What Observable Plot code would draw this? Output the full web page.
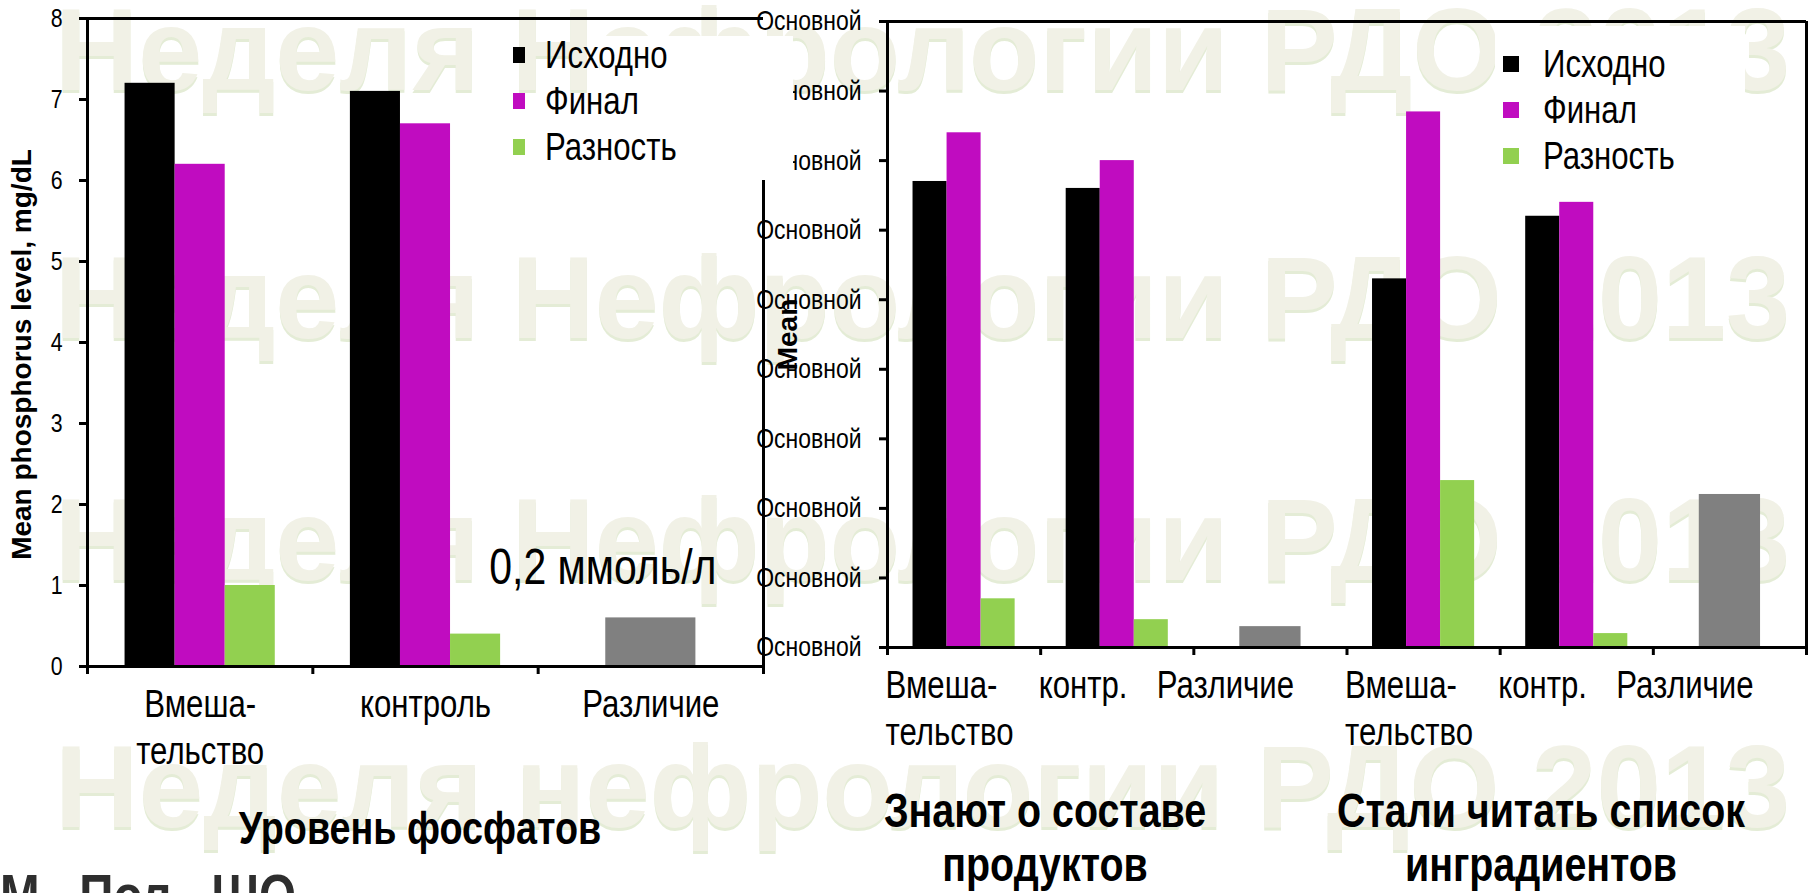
<!DOCTYPE html>
<html><head><meta charset="utf-8">
<script src="https://cdn.jsdelivr.net/npm/d3@7"></script>
<script src="https://cdn.jsdelivr.net/npm/@observablehq/plot@0.6"></script>
<style>
html,body{margin:0;padding:0;width:1813px;height:893px;overflow:hidden;background:#fff;}
#stage{position:relative;width:1813px;height:893px;overflow:hidden;background:#fff;}
.abs{position:absolute;}
.narrow{font-family:"Liberation Sans",Arial,sans-serif;}
.sq{display:inline-block;transform-origin:0 50%;transform:scaleX(0.82);white-space:pre;}
.legend{position:absolute;font-size:38px;color:#000;}
.legend .row{display:flex;align-items:center;height:46px;}
.title{position:absolute;font-size:48px;font-weight:bold;line-height:54px;text-align:center;white-space:pre;color:#000;transform:scaleX(0.82);transform-origin:50% 50%;}
</style></head>
<body><div id="stage"></div>
<script>
const NARROW = '"Liberation Sans", Arial, sans-serif';
const WIDE = '"Liberation Sans", Arial, sans-serif';
const K = 0.82; // narrow-face horizontal factor

// ---- data ----
const series = ["Исходно", "Финал", "Разность"];
const seriesColors = ["#000000", "#C00CC0", "#92D050"];
const diffSeries = "Различие";
const diffColor = "#808080";

const leftCategories = ["Вмеша-\nтельство", "контроль", "Различие"];
const leftBarGroups = [0, 1];
const leftBaseline = [7.2, 7.1];
const leftFinal = [6.2, 6.7];
const leftDelta = [1.0, 0.4];
const leftDiffGroups = [2];
const leftDiff = [0.6];
const leftTicks = [0, 1, 2, 3, 4, 5, 6, 7, 8];
const leftYLabel = "Mean phosphorus level, mg/dL";
const leftNote = "0,2 ммоль/л";
const leftTitle = "Уровень фосфатов";

const rightCategories = ["Вмеша-\nтельство", "контр.", "Различие", "Вмеша-\nтельство", "контр.", "Различие"];
const rightBarGroups = [0, 1, 3, 4];
const rightBaseline = [6.7, 6.6, 5.3, 6.2];
const rightFinal = [7.4, 7.0, 7.7, 6.4];
const rightDelta = [0.7, 0.4, 2.4, 0.2];
const rightDiffGroups = [2, 5];
const rightDiff = [0.3, 2.2];
const rightTicks = [0, 1, 2, 3, 4, 5, 6, 7, 8, 9];
const rightTickLabel = "Основной";
const rightYLabel = "Mean";
const rightTitles = ["Знают о составе\nпродуктов", "Стали читать список\nинградиентов"];

const watermarkRows = ["Неделя Нефрологии РДО 2013", "Неделя Нефрологии РДО 2013", "Неделя Нефрологии РДО 2013", "Неделя нефрологии РДО 2013"];
const footerText = "М.  Пол,  ШО";

// ---- build tables ----
function barRows(groups, a, b, c) {
  const out = [];
  const vals = [a, b, c];
  groups.forEach((g, k) => series.forEach((s, j) => out.push({cat: g, series: s, value: vals[j][k]})));
  return out;
}
const leftRows = barRows(leftBarGroups, leftBaseline, leftFinal, leftDelta);
const leftDiffRows = leftDiffGroups.map((g, k) => ({cat: g, series: diffSeries, value: leftDiff[k]}));
const rightRows = barRows(rightBarGroups, rightBaseline, rightFinal, rightDelta);
const rightDiffRows = rightDiffGroups.map((g, k) => ({cat: g, series: diffSeries, value: rightDiff[k]}));
const rightLabelRows = rightCategories.map((label, i) => ({label, i}));

const inner = d3.scaleBand().domain(series).range([1/6, 5/6]);
const diffHalf = 0.2;
const colorScale = {domain: [...series, diffSeries], range: [...seriesColors, diffColor]};

function barMarks(rows, diffRows) {
  return [
    Plot.rect(rows, {x1: d => d.cat + inner(d.series), x2: d => d.cat + inner(d.series) + inner.bandwidth(), y1: () => 0, y2: "value", fill: "series"}),
    Plot.rect(diffRows, {x1: d => d.cat + 0.5 - diffHalf, x2: d => d.cat + 0.5 + diffHalf, y1: () => 0, y2: "value", fill: "series"})
  ];
}

// compress regular-weight SVG text to a narrow face
function narrow(svg) {
  svg.querySelectorAll("text").forEach(t => {
    if (t.closest('[font-weight="bold"]')) return;
    const parts = t.querySelectorAll("tspan");
    const targets = parts.length ? Array.from(parts) : [t];
    targets.forEach(el => {
      const L = el.getComputedTextLength();
      if (L > 0) { el.setAttribute("textLength", (L * K).toFixed(2)); el.setAttribute("lengthAdjust", "spacingAndGlyphs"); }
    });
  });
}

const stage = document.getElementById("stage");

// ---- watermark ----
const wm = d3.create("svg").attr("width", 1813).attr("height", 893).attr("class", "abs").style("left", 0).style("top", 0).style("z-index", 0);
const wmBase = [90, 338, 580, 827];
watermarkRows.forEach((t, i) => {
  [[3, "#E4ECD6"], [0, "#F1F1E6"]].forEach(([off, col]) => {
    wm.append("text").attr("x", 55).attr("y", wmBase[i] + off).attr("font-family", WIDE).attr("font-weight", "bold")
      .attr("font-size", 116).attr("textLength", 1735).attr("lengthAdjust", "spacingAndGlyphs").attr("fill", col).text(t);
  });
});
stage.appendChild(wm.node());

const labelOpts = {y: () => 0, lineAnchor: "top", dy: 18, fontSize: 38, lineHeight: 1.22};

// ---- right chart ----
const rightPlot = Plot.plot({
  width: 1073, height: 767,
  marginLeft: 147, marginRight: 7, marginTop: 21, marginBottom: 120,
  x: {domain: [0, 6], axis: null},
  y: {domain: [0, 9], axis: null},
  color: colorScale,
  style: {background: "transparent", overflow: "visible", fontFamily: NARROW, fontSize: "28px", color: "#000"},
  marks: [
    ...barMarks(rightRows, rightDiffRows),
    Plot.ruleY([0], {strokeWidth: 3}),
    Plot.ruleY([9], {strokeWidth: 3}),
    Plot.ruleX([0], {strokeWidth: 3}),
    Plot.ruleX([6], {strokeWidth: 3}),
    Plot.axisY({ticks: rightTicks, tickFormat: () => rightTickLabel, tickSize: 8, tickPadding: 18, fontSize: 28, strokeWidth: 3, label: null}),
    Plot.axisX({ticks: d3.range(0, 7), tickSize: 8, tickFormat: () => "", strokeWidth: 3, label: null}),
    Plot.text(rightLabelRows.filter(d => d.label !== diffSeries), {...labelOpts, x: "i", text: "label", textAnchor: "start", dx: -2}),
    Plot.text(rightLabelRows.filter(d => d.label === diffSeries), {...labelOpts, x: "i", text: "label", textAnchor: "start", dx: -37}),
    Plot.text([rightYLabel], {frameAnchor: "left", textAnchor: "middle", rotate: -90, dx: -99, fontSize: 28, fontWeight: "bold", fontFamily: WIDE})
  ]
});
rightPlot.classList.add("abs");
rightPlot.style.left = "740px"; rightPlot.style.top = "0px"; rightPlot.style.zIndex = 1; rightPlot.style.maxWidth = "none";
stage.appendChild(rightPlot);
narrow(rightPlot);

// ---- left chart ----
const leftPlot = Plot.plot({
  width: 790, height: 780,
  marginLeft: 87, marginRight: 27, marginTop: 18, marginBottom: 114,
  x: {domain: [0, 3], axis: null},
  y: {domain: [0, 8], axis: null},
  color: colorScale,
  style: {background: "transparent", overflow: "visible", fontFamily: NARROW, fontSize: "26px", color: "#000"},
  marks: [
    ...barMarks(leftRows, leftDiffRows),
    Plot.ruleY([0], {strokeWidth: 3}),
    Plot.ruleY([8], {strokeWidth: 3}),
    Plot.ruleX([0], {strokeWidth: 3}),
    Plot.ruleX([3], {y1: 0, y2: 6, strokeWidth: 3}),
    Plot.axisY({ticks: leftTicks, tickSize: 8, tickPadding: 17, fontSize: 26, strokeWidth: 3, label: null}),
    Plot.axisX({ticks: d3.range(0, 4), tickSize: 8, tickFormat: () => "", strokeWidth: 3, label: null}),
    Plot.text(leftCategories, {...labelOpts, x: (d, i) => i + 0.5, text: d => d}),
    Plot.text([leftYLabel], {frameAnchor: "left", textAnchor: "middle", rotate: -90, dx: -65, dy: 12, fontSize: 28, fontWeight: "bold", fontFamily: WIDE}),
    Plot.text(leftDiffRows, {x: d => d.cat + 0.5, y: "value", text: () => leftNote, dx: -48, dy: -50, fontSize: 50})
  ]
});
leftPlot.classList.add("abs");
leftPlot.style.left = "0px"; leftPlot.style.top = "0px"; leftPlot.style.zIndex = 2; leftPlot.style.maxWidth = "none";
stage.appendChild(leftPlot);
narrow(leftPlot);

// ---- white legend boxes ----
function box(x, y, w, h) {
  const b = document.createElement("div");
  b.className = "abs";
  Object.assign(b.style, {left: x + "px", top: y + "px", width: w + "px", height: h + "px", background: "#fff", zIndex: 3});
  stage.appendChild(b);
}
box(600, 36, 193, 142);
box(1495, 26, 250, 150);

// ---- legends ----
function legend(x, y, sw, sh, gap) {
  const L = document.createElement("div");
  L.className = "legend narrow";
  Object.assign(L.style, {left: x + "px", top: y + "px", zIndex: 4});
  series.forEach((s, i) => {
    const r = document.createElement("div");
    r.className = "row";
    const sq = document.createElement("span");
    Object.assign(sq.style, {display: "inline-block", width: sw + "px", height: sh + "px", background: seriesColors[i], marginRight: gap + "px"});
    const t = document.createElement("span");
    t.className = "sq";
    t.textContent = s;
    r.appendChild(sq); r.appendChild(t);
    L.appendChild(r);
  });
  stage.appendChild(L);
}
legend(513, 32, 12, 16, 20);
legend(1503, 41, 16, 16, 24);

// ---- titles ----
function title(text, cx, top, size) {
  const d = document.createElement("div");
  d.className = "title narrow";
  d.textContent = text;
  Object.assign(d.style, {left: (cx - 300) + "px", width: "600px", top: top + "px", zIndex: 4, fontSize: size + "px"});
  stage.appendChild(d);
}
title(leftTitle, 420, 801, 46);
title(rightTitles[0], 1045, 784, 48);
title(rightTitles[1], 1541, 784, 48);

const f = document.createElement("div");
f.className = "abs narrow sq";
f.textContent = footerText;
Object.assign(f.style, {left: "0px", top: "866px", fontSize: "58px", lineHeight: "58px", fontWeight: "bold", color: "#2e2e2e", zIndex: 4});
stage.appendChild(f);
</script>
</body></html>
